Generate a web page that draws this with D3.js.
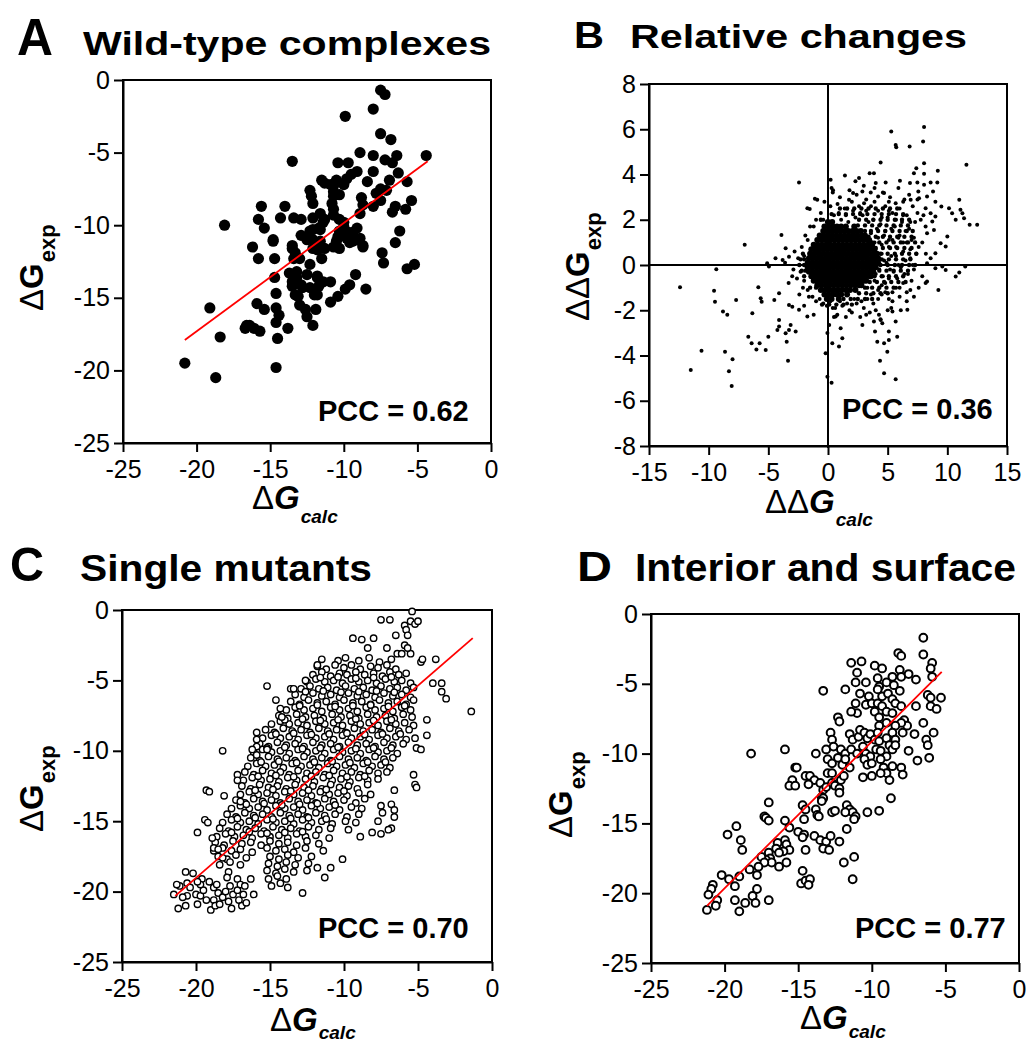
<!DOCTYPE html>
<html><head><meta charset="utf-8">
<script src="https://cdn.jsdelivr.net/npm/d3@7"></script>
<style>
body{margin:0;background:#fff}
svg{display:block}
text{font-family:"Liberation Sans",Arial,Helvetica,sans-serif;fill:#000}
</style></head>
<body><svg id="c" width="1026" height="1044"></svg>
<script>
// ---------------- DATA ----------------
const axisTicks25 = [-25,-20,-15,-10,-5,0];
const bXTicks = [-15,-10,-5,0,5,10,15];
const bYTicks = [-8,-6,-4,-2,0,2,4,6,8];
const pccLabels = {A:"PCC = 0.62", B:"PCC = 0.36", C:"PCC = 0.70", D:"PCC = 0.77"};
const titles = {A:"Wild-type complexes", B:"Relative changes", C:"Single mutants", D:"Interior and surface"};

// A: wild-type complexes [dGcalc, dGexp]
const aPoints = [
[-7.5,-0.7],[-7.2,-1.0],[-8.0,-2.0],[-9.9,-2.5],[-7.5,-3.7],[-6.8,-4.1],[-8.9,-5.0],[-8.0,-5.2],[-6.4,-5.2],[-4.4,-5.2],
[-13.5,-5.6],[-10.4,-5.7],[-9.7,-5.7],[-7.2,-5.5],[-6.7,-5.7],[-6.3,-6.4],[-8.0,-6.3],[-9.1,-6.3],[-9.5,-6.5],[-9.8,-6.8],
[-11.5,-6.9],[-11.3,-7.1],[-10.5,-6.9],[-10.7,-7.3],[-10.0,-7.2],[-8.4,-7.0],[-6.9,-6.9],[-5.7,-7.0],[-12.3,-7.6],[-12.2,-8.0],
[-12.1,-8.5],[-10.7,-8.0],[-10.8,-8.5],[-10.7,-8.9],[-8.8,-8.1],[-8.7,-8.6],[-8.9,-9.2],[-7.8,-7.8],[-7.5,-8.3],[-8.0,-8.7],
[-7.1,-7.6],[-7.5,-7.5],[-5.4,-8.3],[-5.8,-8.9],[-6.5,-8.7],[-6.7,-9.1],[-15.6,-8.7],[-14.0,-8.7],[-14.3,-9.5],[-15.8,-9.6],
[-15.4,-10.2],[-18.1,-10.0],[-13.4,-9.5],[-12.9,-9.6],[-11.6,-9.2],[-11.3,-9.6],[-11.6,-10.3],[-12.1,-10.3],[-12.9,-10.7],[-12.5,-11.0],
[-10.3,-9.6],[-10.0,-10.1],[-10.4,-10.8],[-9.7,-10.5],[-9.4,-10.5],[-9.1,-11.0],[-8.7,-11.5],[-9.6,-11.2],[-10.7,-11.5],[-10.3,-11.6],
[-6.2,-10.4],[-6.5,-11.2],[-14.8,-11.0],[-16.2,-11.5],[-15.8,-12.3],[-14.7,-12.3],[-13.5,-11.4],[-13.3,-11.9],[-13.0,-12.3],[-11.8,-11.7],
[-11.5,-12.3],[-12.1,-11.0],[-7.4,-11.9],[-7.3,-12.6],[-5.7,-13.0],[-5.2,-12.7],[-9.2,-13.4],[-8.5,-14.4],[-14.7,-13.6],[-14.6,-14.7],
[-13.7,-13.3],[-13.2,-13.6],[-12.9,-14.1],[-13.5,-14.2],[-13.1,-14.9],[-13.0,-15.5],[-11.8,-13.6],[-11.7,-14.2],[-12.0,-14.8],[-10.9,-13.9],
[-9.6,-14.1],[-9.9,-14.4],[-10.4,-14.9],[-10.9,-15.3],[-15.9,-15.4],[-15.4,-15.8],[-14.6,-15.7],[-14.4,-16.2],[-12.6,-15.8],[-12.5,-16.3],
[-11.9,-15.8],[-16.6,-16.9],[-16.1,-17.1],[-15.7,-17.3],[-16.7,-17.1],[-16.4,-16.9],[-14.6,-16.7],[-13.8,-17.1],[-12.1,-16.9],[-14.5,-17.8],
[-18.4,-17.7],[-19.1,-15.7],[-20.8,-19.5],[-18.7,-20.5],[-14.6,-19.8],
[-13.2,-13.2],[-13.5,-13.9],[-13.3,-14.8],[-12.8,-14.3],[-12.5,-13.4],[-12.3,-12.7],[-12.3,-14.3],[-11.8,-13.5],[-11.8,-14.8],[-11.4,-13.9],
[-12.1,-9.5],[-11.7,-10.2],[-11.4,-9.8],[-12.3,-10.4],[-11.6,-11.1],[-11.3,-11.6],[-12.1,-11.6],[-12.5,-10.9],
[-10.9,-7.2],[-10.5,-7.0],[-10.7,-7.7],[-10.3,-7.9],[-10.7,-9.3],[-10.3,-10.4],[-10.5,-11.1],[-9.8,-10.9],[-10.0,-9.8],
[-9.1,-10.2],[-8.9,-10.9],[-8.7,-11.4],[-9.4,-11.1],[-13.5,-11.6],[-13.4,-12.3],[-14.8,-11.1]
];
const aFit = [[-20.8,-17.9],[-4.3,-5.6]];

// B: relative changes [ddGcalc, ddGexp]
const bPoints = [
[5.3,5.9],[8.05,6.1],[7.97,5.46],[5.67,5.3],[5.72,5.2],[6.84,5.24],[4.41,4.53],[8.05,4.5],[11.6,4.43],[1.42,3.96],
[3.49,4.06],[3.85,4.06],[7.4,4.28],[7.2,4.06],[8.05,4.03],[9.2,4.17],[2.3,3.7],[2.6,3.84],[4.0,3.62],[4.83,3.65],
[6.03,3.72],[6.87,3.62],[7.49,3.65],[8.05,3.55],[8.6,3.65],[9.16,3.65],[-2.43,3.65],[0.22,3.77],[0.3,3.4],[0.42,3.3],
[2.1,3.18],[2.88,3.25],[3.58,3.2],[4.2,3.03],[4.7,3.18],[7.57,3.25],[8.8,3.25],[-1.1,2.93],[-0.9,2.88],[1.76,2.88],
[3.02,2.73],[5.1,2.8],[5.67,2.73],[6.3,2.8],[6.93,2.88],[7.63,2.95],[8.3,3.03],[9.0,2.8],[11.0,2.88],[9.5,2.59],
[10.14,2.51],[10.4,2.29],[11.1,2.44],[11.26,2.29],[-1.73,2.51],[-1.53,2.47],[8.18,2.51],[8.6,2.29],[9.0,2.14],[8.74,1.92],
[7.77,2.0],[8.18,1.7],[8.88,1.55],[10.7,2.0],[11.4,2.07],[11.87,1.78],[12.5,1.78],[10.0,1.26],[9.86,0.82],[9.44,0.96],
[9.0,0.52],[8.6,0.3],[8.3,0.08],[-3.9,1.33],[-6.98,0.89],[-3.55,0.74],[-4.4,0.3],[-3.8,0.22],[-3.27,0.37],[-5.1,0.08],
[-4.95,-0.07],[-9.36,-0.19],[-12.4,-0.98],[-9.55,-1.14],[-9.47,-1.62],[-8.8,-2.06],[-8.44,-2.2],[-7.7,-1.55],[-5.84,-0.98],[-5.64,-1.47],
[-5.56,-1.62],[-6.34,-2.13],[-4.1,-1.25],[-4.5,-1.55],[-3.27,-1.77],[-2.99,-1.84],[-2.43,-1.98],[-1.73,-2.28],[-4.1,-2.43],[-4.1,-2.72],
[-4.24,-2.87],[-3.13,-2.65],[-3.27,-2.87],[-2.71,-2.94],[-3.55,-3.02],[-3.46,-3.39],[-6.68,-3.17],[-6.4,-3.46],[-6.0,-3.73],[-5.73,-3.46],
[-5.22,-3.76],[-5.0,-3.17],[-3.35,-4.23],[-10.6,-3.79],[-11.5,-4.64],[-8.63,-3.83],[-8.3,-4.7],[-8.0,-4.17],[-8.07,-5.35],[-0.2,-3.9],
[-0.05,-3.0],[0.1,-2.65],[-0.05,-4.94],[0.3,-5.2],[0.36,-3.46],[0.92,-3.6],[1.2,-3.24],[1.06,-2.8],[0.64,-2.28],[0.78,-2.2],
[2.88,-2.65],[3.94,-2.94],[3.85,-2.5],[4.27,-2.2],[4.41,-2.43],[4.55,-2.57],[4.13,-3.39],[4.7,-3.46],[5.1,-3.31],[4.97,-3.83],
[5.1,-2.94],[5.67,-2.5],[5.4,-2.06],[5.8,-3.17],[4.36,-4.23],[4.7,-4.79],[5.67,-5.05],[6.65,-1.98],[9.25,-1.1],[8.18,-0.8],
[8.3,-0.73],[10.7,-0.51],[11.0,-0.33],[11.5,-0.07],[9.0,-0.14],[9.58,-0.07],[9.86,-0.22],
[3.6,2.6],[4.2,2.4],[4.8,2.6],[5.4,2.3],[6.0,2.5],[6.6,2.2],[7.1,2.6],[3.8,2.0],[4.4,1.8],[5.0,2.1],
[5.6,1.7],[6.2,1.9],[6.8,1.6],[7.3,1.9],[3.6,1.4],[4.2,1.2],[4.8,1.5],[5.4,1.1],[6.0,1.3],[6.6,1.0],
[7.2,1.2],[7.6,0.8],[3.9,0.7],[4.5,0.5],[5.1,0.8],[5.7,0.4],[6.3,0.6],[6.9,0.3],[7.4,0.5],[3.7,0.0],
[4.3,-0.2],[4.9,0.1],[5.5,-0.3],[6.1,-0.1],[6.7,-0.4],[7.2,-0.2],[3.9,-0.7],[4.5,-0.9],[5.1,-0.6],[5.7,-1.0],
[6.3,-0.8],[6.9,-1.1],[3.6,-1.3],[4.2,-1.5],[4.8,-1.2],[5.4,-1.6],[6.0,-1.4],[3.2,2.9],[2.6,2.6],[2.0,2.8],
[1.4,2.5],[0.8,2.7],[2.9,2.2],[2.3,2.1],[1.7,1.9],[1.1,2.0],[0.5,2.2],[-0.1,1.9],[-0.6,2.3],[0.2,2.6],
[5.2,3.0],[6.4,2.9],[7.5,2.9],[4.6,3.2],[8.0,2.2],[8.3,1.4],[7.9,1.0],[8.2,0.5],[7.9,-0.5],[7.6,-1.0],
[6.6,-1.6],[5.0,-2.0],[4.0,-2.0],[3.0,-1.9],[2.4,-1.7],[1.8,-2.0],[1.2,-1.8],[0.6,-1.9],[0.2,-1.6],[-0.4,-1.7],
[-1.0,-1.6],[-1.6,-1.4],[-2.1,-1.0],[-2.6,-0.6],[-2.9,-0.2],[-2.5,0.3],[-2.2,0.8],[-1.9,1.3],[-1.5,1.7],[-1.0,2.0],
[-3.3,-0.8],[-3.6,0.1],[-2.0,-1.8],[-1.2,-2.2],[0.5,-2.3],[1.5,-2.3],[2.7,-2.3],[3.5,-2.1],[4.4,-2.4],[6.1,-2.0],
[-0.3,2.8],[0.4,3.2],[1.0,3.0],[1.8,3.3],[2.4,3.1],[3.0,3.5],[3.9,3.4],[5.9,3.4],[6.8,3.1],
[3.9,2.8],[4.5,2.1],[5.1,2.4],[5.7,2.0],[6.3,2.2],[6.9,1.9],[7.5,2.3],[4.1,1.6],[4.7,1.3],[5.3,1.6],
[5.9,1.2],[6.5,1.5],[7.0,1.1],[3.9,1.0],[4.5,0.9],[5.1,1.1],[5.7,0.8],[6.3,1.0],[6.9,0.7],[4.1,0.3],
[4.7,0.2],[5.3,0.4],[5.9,0.0],[6.5,0.2],[7.1,0.0],[4.0,-0.4],[4.6,-0.5],[5.2,-0.2],[5.8,-0.6],[6.4,-0.4],
[7.0,-0.7],[4.2,-1.1],[4.8,-0.8],[5.4,-1.2],[6.0,-1.0],[6.6,-1.2],[3.8,-1.7],[4.5,-1.3],[5.1,-1.5],[3.4,1.9],
[3.2,2.4],[2.7,2.3],[2.1,2.4],[1.5,2.2],[0.9,2.3],[0.3,1.9],[-0.4,2.0],[-1.2,1.7],[-1.7,1.1],[-2.0,0.4],
[-2.3,-0.3],[-2.0,-0.7],[-1.7,-1.1],[-1.3,-1.4],[-0.7,-1.5],[-0.1,-1.8],[0.4,-1.9],[1.0,-1.6],[1.6,-1.7],[2.2,-1.5],
[2.8,-1.6],[3.3,-1.5],[3.3,-1.0],[-2.8,0.6],[-3.0,-0.5],[-2.4,-1.3],[2.0,-2.1],[3.2,-2.2],[5.3,-1.9],[7.2,-1.4]
];
// semi-dense band of B around the core: [ddGexp, [ddGcalc...]]
const bMidRows = [
[2.5,[1.0,1.6,2.2,2.8,3.4,4.0,4.6,5.2,5.8]],
[2.25,[0.3,0.9,1.5,2.1,2.7,3.3,3.9,4.5,5.1,5.7,6.3]],
[2.0,[-0.6,2.6,3.2,3.8,4.4,5.0,5.6,6.2,6.8]],
[1.75,[2.5,3.1,3.7,4.3,4.9,5.5,6.1,6.7]],
[1.5,[3.1,3.6,4.2,4.8,5.4,6.0,6.6,7.1]],
[1.25,[3.4,4.0,4.6,5.2,5.8,6.4,7.0]],
[1.0,[3.7,4.3,4.9,5.5,6.1,6.7,7.3]],
[0.75,[4.0,4.6,5.2,5.8,6.4,7.0]],
[0.5,[-2.1,4.4,5.0,5.6,6.2,6.8,7.4]],
[0.25,[-2.3,-2.0,4.5,5.1,5.7,6.3,6.9]],
[0.0,[-2.4,-2.0,4.4,5.0,5.6,6.2,6.8,7.3]],
[-0.25,[-2.2,-1.9,4.3,4.9,5.5,6.1,6.7]],
[-0.5,[-2.0,3.9,4.5,5.1,5.7,6.3]],
[-0.75,[3.5,4.1,4.7,5.3,5.9,6.5]],
[-1.0,[-1.5,-1.0,3.1,3.7,4.3,4.9,5.5]],
[-1.25,[2.6,3.2,3.8,4.4,5.0]],
[-1.5,[1.3,1.9,2.5,3.1,3.7]],
[-1.75,[-0.5,0.1,0.7,1.3,2.0]]
];
// dense core of B: [ddGexp, [ddGcalc...]]
const bCoreRows = [
[1.9,[0.0,0.35]],
[1.7,[-0.3,0.05,0.4,0.75,1.1,1.5,2.2]],
[1.5,[-0.4,-0.05,0.3,0.65,1.0,1.35,1.7,2.05,2.4,2.75]],
[1.3,[-0.7,-0.35,0,0.35,0.7,1.05,1.4,1.75,2.1,2.45,2.8,3.1]],
[1.1,[-0.9,-0.55,-0.2,0.15,0.5,0.85,1.2,1.55,1.9,2.25,2.6,2.95,3.3,3.45]],
[0.9,[-1.2,-0.85,-0.5,-0.15,0.2,0.55,0.9,1.25,1.6,1.95,2.3,2.65,3.0,3.35,3.7]],
[0.7,[-1.4,-1.05,-0.7,-0.35,0,0.35,0.7,1.05,1.4,1.75,2.1,2.45,2.8,3.15,3.5,3.9]],
[0.5,[-1.5,-1.15,-0.8,-0.45,-0.1,0.25,0.6,0.95,1.3,1.65,2.0,2.35,2.7,3.05,3.4,3.75,4.1]],
[0.3,[-1.6,-1.25,-0.9,-0.55,-0.2,0.15,0.5,0.85,1.2,1.55,1.9,2.25,2.6,2.95,3.3,3.65,4.0,4.2]],
[0.1,[-1.7,-1.35,-1.0,-0.65,-0.3,0.05,0.4,0.75,1.1,1.45,1.8,2.15,2.5,2.85,3.2,3.55,3.9,4.2]],
[-0.1,[-1.7,-1.35,-1.0,-0.65,-0.3,0.05,0.4,0.75,1.1,1.45,1.8,2.15,2.5,2.85,3.2,3.55,3.9,4.0]],
[-0.3,[-1.6,-1.25,-0.9,-0.55,-0.2,0.15,0.5,0.85,1.2,1.55,1.9,2.25,2.6,2.95,3.3,3.65,3.8]],
[-0.5,[-1.4,-1.05,-0.7,-0.35,0,0.35,0.7,1.05,1.4,1.75,2.1,2.45,2.8,3.15,3.5,3.6]],
[-0.7,[-1.2,-0.85,-0.5,-0.15,0.2,0.55,0.9,1.25,1.6,1.95,2.3,2.65,3.0,3.2]],
[-0.9,[-0.9,-0.55,-0.2,0.15,0.5,0.85,1.2,1.55,1.9,2.25,2.6,2.8]],
[-1.1,[-0.6,-0.25,0.1,0.45,0.8,1.15,1.5,1.85,2.3]],
[-1.3,[-0.3,0.05,0.4,0.75,1.1,1.6]],
[-1.5,[-0.1,0.3,0.9]]
];

// C: single mutants [dGcalc, dGexp]
const cCloud = [
[-11.5,-3.5],[-10.4,-3.6],[-9.9,-3.4],[-9.0,-3.6],[-8.3,-3.4],[-7.6,-3.7],[-6.8,-3.5],
[-11.8,-4.0],[-11.2,-4.2],[-10.6,-3.9],[-10.0,-4.1],[-9.5,-3.9],[-8.9,-4.2],[-8.2,-4.0],[-7.7,-4.1],[-7.1,-3.9],[-6.5,-4.2],
[-12.1,-4.6],[-11.5,-4.4],[-10.9,-4.7],[-10.3,-4.5],[-9.8,-4.6],[-9.2,-4.4],[-8.6,-4.6],[-8.0,-4.5],[-7.4,-4.7],[-6.9,-4.4],[-6.3,-4.6],[-5.8,-4.5],
[-12.5,-5.1],[-11.9,-4.9],[-11.3,-5.1],[-10.7,-5.0],[-10.1,-5.2],[-9.5,-4.9],[-9.0,-5.1],[-8.4,-5.0],[-7.8,-5.2],[-7.2,-4.9],[-6.6,-5.1],[-6.1,-5.0],[-5.5,-5.2],
[-12.9,-5.6],[-12.3,-5.4],[-11.7,-5.6],[-11.1,-5.5],[-10.5,-5.7],[-9.9,-5.4],[-9.3,-5.6],[-8.7,-5.5],[-8.1,-5.7],[-7.5,-5.4],[-6.9,-5.6],[-6.4,-5.5],[-5.8,-5.7],[-5.3,-5.5],
[-13.3,-6.0],[-12.7,-6.2],[-12.1,-5.9],[-11.5,-6.1],[-10.9,-6.0],[-10.3,-6.2],[-9.7,-5.9],[-9.1,-6.1],[-8.5,-6.0],[-7.9,-6.2],[-7.3,-5.9],[-6.7,-6.1],[-6.1,-6.0],[-5.5,-6.2],
[-13.6,-6.5],[-13.0,-6.7],[-12.4,-6.4],[-11.8,-6.6],[-11.2,-6.5],[-10.6,-6.7],[-10.0,-6.4],[-9.4,-6.6],[-8.8,-6.5],[-8.2,-6.7],[-7.6,-6.4],[-7.0,-6.6],[-6.4,-6.5],[-5.8,-6.7],[-5.3,-6.4],
[-13.9,-7.1],[-13.3,-6.9],[-12.7,-7.1],[-12.1,-7.0],[-11.5,-7.2],[-10.9,-6.9],[-10.3,-7.1],[-9.7,-7.0],[-9.1,-7.2],[-8.5,-6.9],[-7.9,-7.1],[-7.3,-7.0],[-6.7,-7.2],[-6.1,-6.9],[-5.5,-7.1],
[-14.4,-7.5],[-13.8,-7.7],[-13.2,-7.4],[-12.6,-7.6],[-12.0,-7.5],[-11.4,-7.7],[-10.8,-7.4],[-10.2,-7.6],[-9.6,-7.5],[-9.0,-7.7],[-8.4,-7.4],[-7.8,-7.6],[-7.2,-7.5],[-6.6,-7.7],[-6.0,-7.4],[-5.4,-7.6],
[-14.9,-8.1],[-14.3,-7.9],[-13.7,-8.1],[-13.1,-8.0],[-12.5,-8.2],[-11.9,-7.9],[-11.3,-8.1],[-10.7,-8.0],[-10.1,-8.2],[-9.5,-7.9],[-8.9,-8.1],[-8.3,-8.0],[-7.7,-8.2],[-7.1,-7.9],[-6.5,-8.1],[-5.9,-8.0],[-5.3,-8.2],
[-15.3,-8.5],[-14.7,-8.7],[-14.1,-8.4],[-13.5,-8.6],[-12.9,-8.5],[-12.3,-8.7],[-11.7,-8.4],[-11.1,-8.6],[-10.5,-8.5],[-9.9,-8.7],[-9.3,-8.4],[-8.7,-8.6],[-8.1,-8.5],[-7.5,-8.7],[-6.9,-8.4],[-6.3,-8.6],[-5.6,-8.5],
[-15.5,-9.1],[-14.9,-8.9],[-14.3,-9.1],[-13.7,-9.0],[-13.1,-9.2],[-12.5,-8.9],[-11.9,-9.1],[-11.3,-9.0],[-10.7,-9.2],[-10.1,-8.9],[-9.5,-9.1],[-8.9,-9.0],[-8.3,-9.2],[-7.7,-8.9],[-7.1,-9.1],[-6.5,-9.0],[-5.8,-9.2],
[-15.7,-9.5],[-15.1,-9.7],[-14.5,-9.4],[-13.9,-9.6],[-13.3,-9.5],[-12.7,-9.7],[-12.1,-9.4],[-11.5,-9.6],[-10.9,-9.5],[-10.3,-9.7],[-9.7,-9.4],[-9.1,-9.6],[-8.5,-9.5],[-7.9,-9.7],[-7.3,-9.4],[-6.7,-9.6],[-6.0,-9.5],
[-16.1,-10.1],[-15.5,-9.9],[-14.9,-10.1],[-14.3,-10.0],[-13.7,-10.2],[-13.1,-9.9],[-12.5,-10.1],[-11.9,-10.0],[-11.3,-10.2],[-10.7,-9.9],[-10.1,-10.1],[-9.5,-10.0],[-8.9,-10.2],[-8.3,-9.9],[-7.7,-10.1],[-7.1,-10.0],[-6.4,-10.2],
[-16.3,-10.5],[-15.7,-10.7],[-15.1,-10.4],[-14.5,-10.6],[-13.9,-10.5],[-13.3,-10.7],[-12.7,-10.4],[-12.1,-10.6],[-11.5,-10.5],[-10.9,-10.7],[-10.3,-10.4],[-9.7,-10.6],[-9.1,-10.5],[-8.5,-10.7],[-7.9,-10.4],[-7.3,-10.6],[-6.7,-10.5],
[-16.5,-11.1],[-15.9,-10.9],[-15.3,-11.1],[-14.7,-11.0],[-14.1,-11.2],[-13.5,-10.9],[-12.9,-11.1],[-12.3,-11.0],[-11.7,-11.2],[-11.1,-10.9],[-10.5,-11.1],[-9.9,-11.0],[-9.3,-11.2],[-8.7,-10.9],[-8.1,-11.1],[-7.5,-11.0],[-6.9,-11.2],
[-16.7,-11.5],[-16.1,-11.7],[-15.5,-11.4],[-14.9,-11.6],[-14.3,-11.5],[-13.7,-11.7],[-13.1,-11.4],[-12.5,-11.6],[-11.9,-11.5],[-11.3,-11.7],[-10.7,-11.4],[-10.1,-11.6],[-9.5,-11.5],[-8.9,-11.7],[-8.3,-11.4],[-7.7,-11.6],[-7.1,-11.5],
[-16.8,-12.1],[-16.2,-11.9],[-15.6,-12.1],[-15.0,-12.0],[-14.4,-12.2],[-13.8,-11.9],[-13.2,-12.1],[-12.6,-12.0],[-12.0,-12.2],[-11.4,-11.9],[-10.8,-12.1],[-10.2,-12.0],[-9.6,-12.2],[-9.0,-11.9],[-8.4,-12.1],[-7.7,-12.0],
[-16.9,-12.5],[-16.3,-12.7],[-15.7,-12.4],[-15.1,-12.6],[-14.5,-12.5],[-13.9,-12.7],[-13.3,-12.4],[-12.7,-12.6],[-12.1,-12.5],[-11.5,-12.7],[-10.9,-12.4],[-10.3,-12.6],[-9.7,-12.5],[-9.1,-12.7],[-8.4,-12.4],
[-17.0,-13.1],[-16.4,-12.9],[-15.8,-13.1],[-15.2,-13.0],[-14.6,-13.2],[-14.0,-12.9],[-13.4,-13.1],[-12.8,-13.0],[-12.2,-13.2],[-11.6,-12.9],[-11.0,-13.1],[-10.4,-13.0],[-9.8,-13.2],[-9.0,-13.0],[-8.2,-13.1],
[-17.3,-13.5],[-16.7,-13.7],[-16.1,-13.4],[-15.5,-13.6],[-14.9,-13.5],[-14.3,-13.7],[-13.7,-13.4],[-13.1,-13.6],[-12.5,-13.5],[-11.9,-13.7],[-11.3,-13.4],[-10.7,-13.6],[-10.0,-13.5],[-9.2,-13.7],[-8.6,-13.4],
[-17.6,-14.1],[-17.0,-13.9],[-16.4,-14.1],[-15.8,-14.0],[-15.2,-14.2],[-14.6,-13.9],[-14.0,-14.1],[-13.4,-14.0],[-12.8,-14.2],[-12.2,-13.9],[-11.6,-14.1],[-11.0,-14.0],[-10.3,-14.2],[-9.5,-14.0],[-8.8,-14.1],
[-17.9,-14.5],[-17.3,-14.7],[-16.7,-14.4],[-16.1,-14.6],[-15.5,-14.5],[-14.9,-14.7],[-14.3,-14.4],[-13.7,-14.6],[-13.1,-14.5],[-12.5,-14.7],[-11.9,-14.4],[-11.3,-14.6],[-10.6,-14.5],[-9.8,-14.7],[-9.0,-14.5],
[-18.2,-15.1],[-17.6,-14.9],[-17.0,-15.1],[-16.4,-15.0],[-15.8,-15.2],[-15.2,-14.9],[-14.6,-15.1],[-14.0,-15.0],[-13.4,-15.2],[-12.8,-14.9],[-12.2,-15.1],[-11.5,-15.0],[-10.8,-15.2],[-9.9,-15.0],[-9.2,-15.1],
[-18.4,-15.5],[-17.8,-15.7],[-17.2,-15.4],[-16.6,-15.6],[-16.0,-15.5],[-15.4,-15.7],[-14.8,-15.4],[-14.2,-15.6],[-13.6,-15.5],[-13.0,-15.7],[-12.4,-15.4],[-11.7,-15.6],[-10.9,-15.5],[-9.7,-15.6],
[-18.6,-16.1],[-18.0,-15.9],[-17.4,-16.1],[-16.8,-16.0],[-16.2,-16.2],[-15.6,-15.9],[-15.0,-16.1],[-14.4,-16.0],[-13.8,-16.2],[-13.2,-15.9],[-12.6,-16.1],[-11.9,-16.0],[-11.0,-16.2],
[-18.7,-16.5],[-18.1,-16.7],[-17.5,-16.4],[-16.9,-16.6],[-16.3,-16.5],[-15.6,-16.7],[-15.0,-16.4],[-14.4,-16.6],[-13.8,-16.5],[-13.2,-16.7],[-12.5,-16.4],[-11.7,-16.6],
[-18.8,-17.1],[-18.2,-16.9],[-17.6,-17.1],[-17.0,-17.0],[-16.2,-17.2],[-15.2,-16.9],[-14.6,-17.1],[-14.0,-17.0],[-13.4,-17.2],[-12.6,-16.9],[-11.4,-17.1],
[-18.5,-17.5],[-17.9,-17.7],[-17.3,-17.4],[-16.6,-17.6],[-15.0,-17.5],[-14.4,-17.7],[-13.8,-17.4],[-13.1,-17.6],[-12.2,-17.5],
[-18.4,-18.1],[-17.7,-17.9],[-17.0,-18.1],[-15.1,-18.0],[-14.5,-18.2],[-13.9,-17.9],[-13.3,-18.1],[-12.4,-18.0],
[-17.8,-18.6],[-15.2,-18.5],[-14.6,-18.7],[-14.0,-18.4],[-13.4,-18.6],
[-15.1,-19.1],[-14.5,-18.9],[-13.9,-19.1],[-14.9,-19.6],[-14.3,-19.4],[-13.8,-19.7],
[-11.6,-4.8],[-10.4,-4.75],[-9.2,-4.85],[-8.0,-4.8],[-6.8,-4.75],
[-12.6,-5.8],[-11.4,-5.75],[-10.2,-5.85],[-9.0,-5.8],[-7.8,-5.75],[-6.6,-5.85],
[-13.0,-6.8],[-11.8,-6.75],[-10.6,-6.85],[-9.4,-6.8],[-8.2,-6.75],[-7.0,-6.85],[-5.9,-6.8],
[-14.0,-7.8],[-12.8,-7.75],[-11.6,-7.85],[-10.4,-7.8],[-9.2,-7.75],[-8.0,-7.85],[-6.8,-7.8],
[-14.6,-8.8],[-13.4,-8.75],[-12.2,-8.85],[-11.0,-8.8],[-9.8,-8.75],[-8.6,-8.85],[-7.4,-8.8],[-6.2,-8.8],
[-15.2,-9.8],[-14.0,-9.75],[-12.8,-9.85],[-11.6,-9.8],[-10.4,-9.75],[-9.2,-9.85],[-8.0,-9.8],[-6.8,-9.8],
[-15.6,-10.8],[-14.4,-10.75],[-13.2,-10.85],[-12.0,-10.8],[-10.8,-10.75],[-9.6,-10.85],[-8.4,-10.8],[-7.2,-10.8],
[-15.8,-11.8],[-14.6,-11.75],[-13.4,-11.85],[-12.2,-11.8],[-11.0,-11.75],[-9.8,-11.85],[-8.6,-11.8],
[-16.0,-12.8],[-14.8,-12.75],[-13.6,-12.85],[-12.4,-12.8],[-11.2,-12.75],[-10.0,-12.85],
[-16.6,-13.8],[-15.4,-13.75],[-14.2,-13.85],[-13.0,-13.8],[-11.8,-13.75],[-10.6,-13.85],
[-17.2,-14.8],[-16.0,-14.75],[-14.8,-14.85],[-13.6,-14.8],[-12.4,-14.75],[-11.2,-14.85],
[-17.6,-15.8],[-16.4,-15.75],[-15.2,-15.85],[-14.0,-15.8],[-12.8,-15.75]
];
const cOutliers = [
[-5.4,-0.1],[-7.5,-0.7],[-6.9,-0.7],[-5.9,-1.1],[-5.5,-0.8],[-5.2,-1.0],[-5.0,-0.8],[-5.8,-1.4],[-5.7,-1.8],[-6.5,-1.8],
[-9.4,-2.0],[-8.8,-2.1],[-8.0,-2.0],[-8.4,-2.7],[-7.1,-2.7],[-6.4,-3.1],[-6.1,-3.1],[-5.5,-3.1],[-5.9,-2.5],[-5.7,-2.7],
[-4.8,-3.7],[-4.7,-3.5],[-3.8,-3.5],[-11.8,-3.9],[-12.6,-5.0],[-15.2,-5.4],[-13.6,-5.6],[-13.4,-5.6],[-14.6,-6.4],[-14.3,-7.0],
[-14.2,-7.6],[-4.0,-5.2],[-3.4,-5.2],[-3.4,-5.8],[-3.1,-6.3],[-1.4,-7.2],[-4.4,-7.8],[-4.4,-8.9],[-5.2,-9.1],[-5.1,-9.8],
[-4.8,-9.9],[-5.3,-11.7],[-5.2,-12.4],[-5.1,-12.6],[-6.6,-12.8],[-6.8,-13.8],[-6.6,-14.2],[-6.6,-14.7],[-6.8,-15.5],[-7.0,-15.6],
[-7.5,-13.9],[-7.4,-14.4],[-7.7,-15.0],[-8.1,-15.8],[-7.5,-15.9],[-8.9,-16.1],[-15.9,-8.7],[-15.9,-9.2],[-15.9,-9.7],[-16.2,-9.9],
[-15.9,-10.3],[-18.2,-10.0],[-15.2,-9.9],[-17.2,-11.7],[-17.2,-12.1],[-19.3,-12.8],[-19.1,-12.9],[-18.1,-13.2],[-17.0,-13.6],[-19.4,-14.9],
[-19.2,-15.1],[-19.9,-15.8],[-18.9,-16.2],[-18.8,-16.9],[-18.5,-17.0],[-18.2,-17.6],[-12.8,-20.1],[-10.1,-17.7],[-11.3,-19.0],[-10.9,-18.3],
[-12.5,-18.5],[-11.8,-18.3],
[-21.5,-20.2],[-21.2,-21.2],[-20.7,-21.0],[-20.6,-20.3],[-21.1,-19.6],[-20.7,-18.6],[-20.2,-18.7],[-20.6,-19.4],[-20.0,-20.2],[-19.9,-20.9],
[-19.7,-20.3],[-19.5,-19.9],[-19.0,-21.3],[-19.3,-20.6],[-18.8,-20.6],[-18.7,-21.0],[-18.4,-20.9],[-18.5,-20.1],[-18.2,-20.4],[-17.9,-19.0],
[-17.7,-19.6],[-17.5,-20.2],[-17.2,-19.1],[-17.2,-19.9],[-17.1,-20.6],[-16.9,-21.0],[-16.8,-20.2],[-16.6,-20.8],[-16.3,-19.1],[-16.1,-20.2],
[-17.6,-21.2],[-18.8,-19.7],[-19.1,-19.3],[-19.6,-19.1],[-21.3,-19.5],[-20.9,-20.4],[-20.4,-19.7],[-19.7,-19.5],[-18.0,-20.0],[-17.8,-20.7],
[-17.0,-19.5],[-16.7,-19.6],[-18.6,-19.5],[-19.9,-19.3]
];
const cFit = [[-21.4,-20.3],[-1.3,-2.0]];

// D: interior and surface [dGcalc, dGexp]
const dPoints = [
[-6.5,-1.7],[-6.5,-2.9],[-8.2,-2.8],[-8.0,-3.0],[-5.9,-3.5],[-6.0,-3.9],[-11.4,-3.5],[-10.7,-3.4],[-9.8,-3.7],[-9.3,-3.9],
[-8.1,-4.0],[-8.0,-4.5],[-7.5,-4.3],[-7.0,-4.7],[-5.9,-4.5],[-11.0,-4.2],[-11.1,-4.9],[-10.4,-4.9],[-9.6,-4.6],[-9.5,-5.2],
[-9.0,-4.9],[-8.6,-4.5],[-8.5,-5.1],[-11.8,-5.4],[-13.3,-5.5],[-10.8,-5.7],[-10.2,-5.9],[-9.6,-5.4],[-9.3,-5.9],[-8.9,-5.7],
[-8.1,-5.5],[-8.6,-6.1],[-6.2,-5.8],[-6.0,-6.0],[-5.3,-6.0],[-11.1,-6.4],[-10.4,-6.5],[-11.0,-7.1],[-10.0,-6.4],[-9.6,-6.4],
[-9.3,-6.6],[-8.4,-6.4],[-8.0,-6.6],[-7.0,-6.6],[-6.0,-6.6],[-5.6,-6.8],[-11.4,-7.0],[-9.8,-7.0],[-9.0,-7.0],[-8.6,-7.1],
[-7.8,-7.6],[-7.6,-8.0],[-8.0,-7.8],[-12.3,-7.4],[-12.2,-7.7],[-9.5,-7.4],[-9.0,-7.8],[-9.5,-8.0],[-8.4,-8.0],[-8.6,-8.5],
[-7.9,-8.5],[-6.5,-7.8],[-7.1,-8.6],[-5.8,-8.5],[-12.8,-8.5],[-12.7,-9.0],[-11.5,-8.6],[-11.3,-9.0],[-10.9,-8.8],[-10.8,-8.3],
[-10.5,-8.5],[-10.3,-8.9],[-10.1,-8.6],[-9.8,-9.0],[-9.6,-8.5],[-9.5,-9.1],[-9.0,-8.9],[-8.8,-9.4],[-8.4,-9.0],[-6.3,-9.0],
[-6.2,-9.4],[-13.1,-9.7],[-12.6,-9.5],[-12.1,-9.7],[-11.8,-10.0],[-13.8,-10.0],[-11.4,-9.7],[-11.0,-10.0],[-10.6,-9.5],[-10.4,-10.0],
[-10.1,-10.2],[-9.7,-9.7],[-9.4,-9.8],[-9.0,-10.2],[-8.6,-9.7],[-8.4,-9.4],[-7.5,-9.8],[-6.9,-10.5],[-6.1,-10.3],[-18.2,-10.0],
[-15.9,-9.7],[-13.0,-10.4],[-12.7,-10.7],[-12.3,-10.3],[-12.0,-10.8],[-11.8,-10.4],[-11.5,-11.0],[-10.5,-10.4],[-10.3,-10.8],[-10.0,-10.7],
[-9.4,-10.4],[-9.2,-11.0],[-9.0,-11.4],[-8.6,-10.9],[-8.0,-11.0],[-7.9,-11.5],[-15.2,-11.0],[-15.1,-11.0],[-15.4,-11.9],[-15.6,-12.3],
[-15.2,-12.3],[-14.5,-11.6],[-14.2,-11.6],[-13.9,-11.9],[-14.3,-12.2],[-13.5,-12.1],[-13.3,-12.6],[-13.4,-13.1],[-13.1,-12.4],[-12.7,-12.1],
[-12.5,-12.3],[-12.1,-11.9],[-12.2,-12.5],[-11.9,-11.6],[-13.0,-11.4],[-12.7,-11.4],[-10.6,-11.7],[-10.0,-11.6],[-9.4,-11.4],[-8.8,-11.9],
[-12.2,-12.8],[-8.7,-13.2],[-13.3,-13.2],[-13.4,-13.4],[-11.7,-13.7],[-11.5,-14.0],[-11.3,-14.2],[-11.8,-14.2],[-11.1,-14.5],[-10.3,-14.2],
[-9.5,-14.1],[-12.7,-14.2],[-12.5,-14.1],[-14.7,-13.7],[-14.5,-14.0],[-14.6,-14.7],[-13.8,-14.0],[-13.7,-14.4],[-13.6,-14.5],[-11.7,-15.4],
[-11.2,-14.7],[-17.0,-13.5],[-17.3,-14.5],[-17.2,-14.6],[-17.0,-14.8],[-15.9,-14.8],[-15.6,-15.3],[-15.0,-15.6],[-14.6,-15.8],[-14.7,-16.0],
[-13.9,-15.9],[-13.5,-16.2],[-13.1,-16.3],[-12.8,-15.9],[-13.3,-16.8],[-12.9,-16.9],[-12.2,-16.3],[-15.9,-16.2],[-15.8,-16.5],[-15.6,-16.9],
[-16.4,-16.4],[-16.5,-16.8],[-16.0,-17.0],[-16.3,-17.1],[-14.5,-16.9],[-19.2,-15.2],[-19.8,-15.8],[-18.9,-16.2],[-18.8,-16.9],[-17.0,-17.1],
[-16.9,-17.5],[-17.2,-17.6],[-16.8,-17.8],[-16.3,-18.1],[-17.5,-17.4],[-17.3,-17.8],[-17.7,-18.1],[-17.8,-18.7],[-18.3,-18.3],[-15.8,-17.8],
[-11.9,-17.8],[-11.2,-17.4],[-11.3,-19.0],[-14.7,-18.4],[-14.8,-19.3],[-14.5,-19.1],[-14.2,-19.0],[-14.3,-19.4],[-20.2,-18.7],[-19.0,-18.8],
[-19.3,-19.5],[-19.7,-19.0],[-17.8,-19.7],[-18.1,-20.2],[-17.9,-20.7],[-17.0,-20.5],[-19.3,-20.5],[-18.6,-20.7],[-19.0,-21.3],[-20.8,-19.4],
[-20.9,-19.7],[-21.1,-20.1],[-20.5,-20.5],[-20.6,-20.9],[-21.2,-21.2]
];
const dFit = [[-21.2,-20.9],[-5.25,-4.15]];

// ---------------- LAYOUT ----------------
const panels = [
 {key:"A", pts:aPoints, fit:aFit, mark:"dot", xd:[-25,0], yd:[-25,0], xt:axisTicks25, yt:axisTicks25,
  left:123, right:491, top:80, bottom:443,
  letter:{x:17,y:55,size:51,w:36}, title:{x:83,y:55,size:33,w:408},
  pcc:{x:318,y:421}, xl:{x:252,y:509,sub:14,pre:"Δ"}, yl:{x:43,y:311,sub:12,pre:"Δ"}},
 {key:"B", pts:bPoints, mid:bMidRows, core:bCoreRows, mark:"small", xd:[-15,15], yd:[-8,8], xt:bXTicks, yt:bYTicks,
  left:649, right:1007, top:84, bottom:446, zero:true,
  letter:{x:574,y:48,size:37,w:30}, title:{x:630,y:48,size:33,w:337},
  pcc:{x:842,y:419}, xl:{x:765,y:513,sub:13,pre:"ΔΔ"}, yl:{x:589,y:321,sub:12,pre:"ΔΔ"}},
 {key:"C", pts:cCloud.concat(cOutliers), fit:cFit, mark:"ring", xd:[-25,0], yd:[-25,0], xt:axisTicks25, yt:axisTicks25,
  left:122, right:492, top:610, bottom:962,
  letter:{x:10,y:581,size:49,w:34}, title:{x:80,y:581,size:37,w:292},
  pcc:{x:318,y:938}, xl:{x:270,y:1031,sub:8,pre:"Δ"}, yl:{x:43,y:832,sub:12,pre:"Δ"}},
 {key:"D", pts:dPoints, fit:dFit, mark:"bigring", xd:[-25,0], yd:[-25,0], xt:axisTicks25, yt:axisTicks25,
  left:651, right:1019, top:614, bottom:963,
  letter:{x:577,y:581,size:42,w:35}, title:{x:635,y:581,size:38,w:381},
  pcc:{x:855,y:938}, xl:{x:800,y:1029,sub:9,pre:"Δ"}, yl:{x:572,y:838,sub:13,pre:"Δ"}}
];

const svg = d3.select("#c");

function styleAxis(g){
  g.attr("font-family",null).attr("font-size",null);
  g.select(".domain").attr("stroke","#000").attr("stroke-width",2);
  g.selectAll(".tick line").attr("stroke","#000").attr("stroke-width",2);
  g.selectAll(".tick text").style("font-size","25px").style("font-family",'"Liberation Sans",Arial,sans-serif').attr("fill","#000");
}
const rowsToPoints = rows => rows.flatMap(r=>r[1].map(v=>[v,r[0]]));

panels.forEach(p=>{
  const x = d3.scaleLinear().domain(p.xd).range([p.left,p.right]);
  const y = d3.scaleLinear().domain(p.yd).range([p.bottom,p.top]);
  const g = svg.append("g");

  g.append("rect").attr("x",p.left).attr("y",p.top).attr("width",p.right-p.left).attr("height",p.bottom-p.top)
   .attr("fill","none").attr("stroke","#000").attr("stroke-width",2);

  if(p.zero){
    g.append("line").attr("x1",x(0)).attr("x2",x(0)).attr("y1",p.top).attr("y2",p.bottom+2).attr("stroke","#000").attr("stroke-width",2);
    g.append("line").attr("x1",p.left).attr("x2",p.right).attr("y1",y(0)).attr("y2",y(0)).attr("stroke","#000").attr("stroke-width",2);
  }

  const mg = g.append("g");
  if(p.mark==="dot"){
    mg.selectAll("circle").data(p.pts).join("circle").attr("cx",d=>x(d[0])).attr("cy",d=>y(d[1])).attr("r",5.6).attr("fill","#000");
  } else if(p.mark==="small"){
    mg.selectAll("circle.core").data(rowsToPoints(p.core)).join("circle").attr("class","core").attr("cx",d=>x(d[0])).attr("cy",d=>y(d[1])).attr("r",3).attr("fill","#000");
    mg.selectAll("circle.mid").data(rowsToPoints(p.mid)).join("circle").attr("class","mid").attr("cx",d=>x(d[0])).attr("cy",d=>y(d[1])).attr("r",2.2).attr("fill","#000");
    mg.selectAll("circle.pt").data(p.pts).join("circle").attr("class","pt").attr("cx",d=>x(d[0])).attr("cy",d=>y(d[1])).attr("r",2).attr("fill","#000");
  } else if(p.mark==="ring"){
    mg.selectAll("circle").data(p.pts).join("circle").attr("cx",d=>x(d[0])).attr("cy",d=>y(d[1])).attr("r",3.2)
      .attr("fill","#fff").attr("stroke","#000").attr("stroke-width",1.4);
  } else {
    mg.selectAll("circle").data(p.pts).join("circle").attr("cx",d=>x(d[0])).attr("cy",d=>y(d[1])).attr("r",3.9)
      .attr("fill","#fff").attr("stroke","#000").attr("stroke-width",2);
  }

  if(p.fit){
    g.append("path").datum(p.fit).attr("d",d3.line().x(d=>x(d[0])).y(d=>y(d[1])))
     .attr("fill","none").attr("stroke","#ff0000").attr("stroke-width",1.8);
  }

  const fmt = d=>String(d);
  const ax = g.append("g").attr("transform",`translate(0,${p.bottom})`)
    .call(d3.axisBottom(x).tickValues(p.xt).tickFormat(fmt).tickSize(9).tickSizeOuter(0).tickPadding(8));
  styleAxis(ax);
  const ay = g.append("g").attr("transform",`translate(${p.left},0)`)
    .call(d3.axisLeft(y).tickValues(p.yt).tickFormat(fmt).tickSize(9).tickSizeOuter(0).tickPadding(4));
  styleAxis(ay);

  svg.append("text").attr("x",p.letter.x).attr("y",p.letter.y).attr("font-weight","bold")
    .attr("font-size",p.letter.size).attr("textLength",p.letter.w).attr("lengthAdjust","spacingAndGlyphs").text(p.key);
  svg.append("text").attr("x",p.title.x).attr("y",p.title.y).attr("font-weight","bold")
    .attr("font-size",p.title.size).attr("textLength",p.title.w).attr("lengthAdjust","spacingAndGlyphs").text(titles[p.key]);

  svg.append("text").attr("x",p.pcc.x).attr("y",p.pcc.y).attr("font-weight","bold").attr("font-size",29).text(pccLabels[p.key]);

  const tx = svg.append("text").attr("x",p.xl.x).attr("y",p.xl.y).attr("font-size",33);
  tx.append("tspan").text(p.xl.pre);
  tx.append("tspan").attr("font-weight","bold").attr("font-style","italic").text("G");
  tx.append("tspan").attr("font-weight","bold").attr("font-style","italic").attr("font-size",19).attr("dy",p.xl.sub).attr("dx",1).text("calc");

  const ty = svg.append("text").attr("transform",`translate(${p.yl.x},${p.yl.y}) rotate(-90)`).attr("font-size",33);
  ty.append("tspan").text(p.yl.pre);
  ty.append("tspan").attr("font-weight","bold").text("G");
  ty.append("tspan").attr("font-weight","bold").attr("font-size",22).attr("dy",p.yl.sub).attr("dx",1).text("exp");
});
</script>
</body></html>
